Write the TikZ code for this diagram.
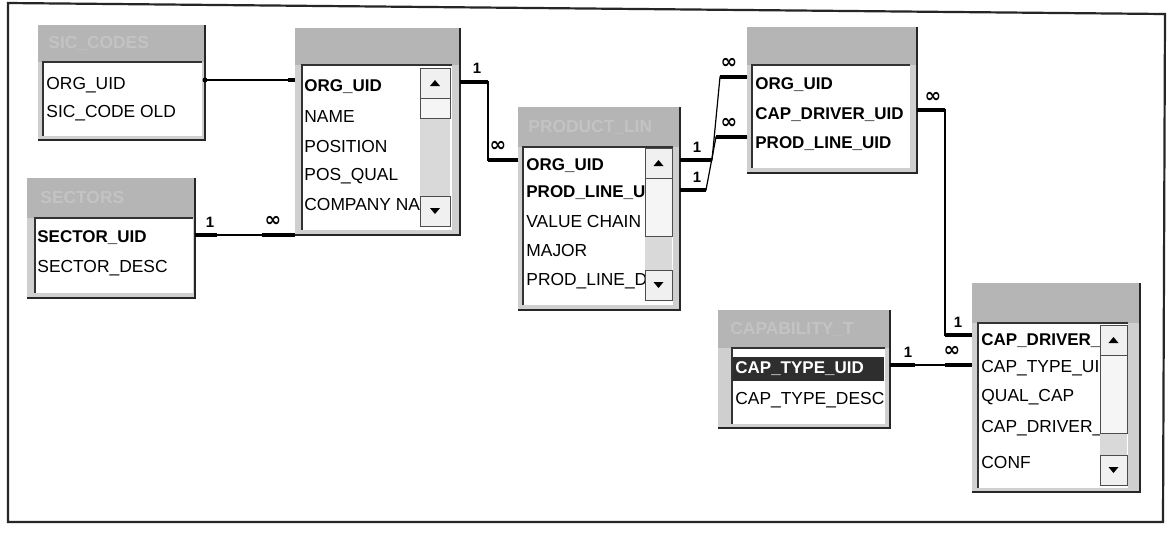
\documentclass[tikz,border=0pt]{standalone}
\usepackage{fontspec}
\setmainfont{Liberation Sans}
\newfontfamily\symf{DejaVu Sans}
\usetikzlibrary{calc}
\newcommand\dbtab[9]{%
  \node[tabframe, minimum width={(#4-#2)*0.5pt}, minimum height={(#5-#3)*0.5pt}] (#1) at (#2,#3) {};
  \fill[hdrgray] (#2,#3) rectangle (#4,#6);
  \fill[white] (#7,#6) rectangle (#8,#9);
  \draw[line width=0.7pt, black!80] (#7,#9) -- (#7,#6) -- (#8,#6);
  \draw[line width=0.9pt, black!85] (#4,#3) -- (#4,#5) -- (#2,#5);
}
\newcommand\sbar[6]{%
  \fill[gray!30] (#1,#3) rectangle (#2,#4);
  \filldraw[fill=gray!8, draw=black!70, line width=0.4pt] (#1,#5) rectangle (#2,#6);
  \filldraw[fill=gray!12, draw=black!70, line width=0.4pt] (#1,#3) rectangle (#2,{#3+30});
  \filldraw[fill=gray!12, draw=black!70, line width=0.4pt] (#1,{#4-30}) rectangle (#2,#4);
  \fill[black] ({(#1+#2)/2-5},{#3+18}) -- ({(#1+#2)/2+5},{#3+18}) -- ({(#1+#2)/2},{#3+12}) -- cycle;
  \fill[black] ({(#1+#2)/2-5},{#4-18}) -- ({(#1+#2)/2+5},{#4-18}) -- ({(#1+#2)/2},{#4-12}) -- cycle;
}
\begin{document}
\begin{tikzpicture}[x=0.5pt,y=-0.5pt,
  hdrgray/.style={fill=gray!58},
  tabframe/.style={draw=none, fill=gray!38, inner sep=0pt, outer sep=0pt, anchor=north west},
  fld/.style={anchor=west, inner sep=0pt, font=\fontsize{8.7}{10}\selectfont},
  keyfld/.style={fld, font=\fontsize{8.5}{10}\selectfont\bfseries},
  ttl/.style={anchor=west, inner sep=0pt, text=gray!47, font=\fontsize{8.7}{10}\selectfont\bfseries},
  card/.style={inner sep=0pt, font=\fontsize{7.5}{8}\selectfont\bfseries},
  inf/.style={inner sep=0pt, font=\symf\fontsize{10}{10}\selectfont\bfseries},
  relthick/.style={line width=2pt},
  relthin/.style={line width=0.6pt},
]
\useasboundingbox (0,0) rectangle (1169,532);
\fill[white] (0,0) rectangle (1169,532);
\draw[line width=1.1pt, black!85] (8,3) -- (1165,14) -- (1163,522) -- (8,522) -- cycle;

% ---- tables ----
\dbtab{sic}{38}{25}{205}{140}{62}{43}{202}{136}
\node[ttl] (sict) at (48,43) {SIC\_CODES};
\begin{scope}
  \clip (43,62) rectangle (202,136);
  \node[fld] (sic1) at (46,85) {ORG\_UID};
  \node[fld] (sic2) at (46,113) {SIC\_CODE OLD};
\end{scope}

\dbtab{sectors}{27}{178}{195}{298}{218}{35}{193}{293}
\node[ttl] (sect) at (40,198) {SECTORS};
\begin{scope}
  \clip (35,218) rectangle (193,293);
  \node[keyfld] (sec1) at (37,238) {SECTOR\_UID};
  \node[fld] (sec2) at (37,268) {SECTOR\_DESC};
\end{scope}

\dbtab{org}{295}{28}{460}{235}{65}{302}{452}{230}
\begin{scope}
  \clip (302,65) rectangle (420,230);
  \node[keyfld] (org1) at (304,87) {ORG\_UID};
  \node[fld] (org2) at (304,117) {NAME};
  \node[fld] (org3) at (304,147) {POSITION};
  \node[fld] (org4) at (304,176) {POS\_QUAL};
  \node[fld] (org5) at (304,205) {COMPANY NA};
\end{scope}
\sbar{420}{450}{68}{226}{98}{118}

\dbtab{product}{518}{107}{680}{310}{147}{523}{673}{305}
\node[ttl] (prodt) at (528,127) {PRODUCT\_LIN};
\begin{scope}
  \clip (523,147) rectangle (645,305);
  \node[keyfld] (prod1) at (526,166) {ORG\_UID};
  \node[keyfld] (prod2) at (526,193) {PROD\_LINE\_U};
  \node[fld] (prod3) at (526,222) {VALUE CHAIN};
  \node[fld] (prod4) at (526,251) {MAJOR};
  \node[fld] (prod5) at (526,281) {PROD\_LINE\_D};
\end{scope}
\sbar{645}{672}{148}{300}{178}{236}

\dbtab{link}{747}{27}{917}{173}{65}{752}{910}{168}
\begin{scope}
  \clip (752,65) rectangle (908,168);
  \node[keyfld] (lnk1) at (755,85) {ORG\_UID};
  \node[keyfld] (lnk2) at (755,115) {CAP\_DRIVER\_UID};
  \node[keyfld] (lnk3) at (755,144) {PROD\_LINE\_UID};
\end{scope}

\dbtab{captype}{718}{310}{890}{428}{348}{732}{885}{424}
\node[ttl] (ctt) at (730,329) {CAPABILITY\_T};
\begin{scope}
  \clip (732,348) rectangle (885,424);
  \fill[black!82] (733,357) rectangle (884,381);
  \node[keyfld, text=white] (ct1) at (735,369) {CAP\_TYPE\_UID};
  \node[fld] (ct2) at (735,400) {CAP\_TYPE\_DESC};
\end{scope}

\dbtab{capdrv}{972}{283}{1140}{492}{323}{978}{1128}{488}
\begin{scope}
  \clip (978,323) rectangle (1100,488);
  \node[keyfld] (cd1) at (981,341) {CAP\_DRIVER\_UID};
  \node[fld] (cd2) at (981,368) {CAP\_TYPE\_UID};
  \node[fld] (cd3) at (981,397) {QUAL\_CAP};
  \node[fld] (cd4) at (981,428) {CAP\_DRIVER\_UID};
  \node[fld] (cd5) at (981,462) {CONF};
\end{scope}
\sbar{1100}{1127}{325}{485}{355}{433}

% ---- relationship levels ----
\coordinate (yA) at (0,80);
\coordinate (yB) at (0,235);
\coordinate (yC) at (0,82);
\coordinate (yD) at (0,160);
\coordinate (yE) at (0,160);
\coordinate (yF) at (0,77);
\coordinate (yG) at (0,190);
\coordinate (yH) at (0,137);
\coordinate (yI) at (0,110);
\coordinate (yJ) at (0,335);
\coordinate (yK) at (0,365);
\coordinate (bx3) at (488,0);
\coordinate (k4a) at (712,160);
\coordinate (k4b) at (720,77);
\coordinate (k5a) at (706,190);
\coordinate (k5b) at (716,137);
\coordinate (bx6) at (945,0);

% SIC -> ORG
\draw[relthin] (sic.east |- yA) -- (org.west |- yA);
\fill (sic.east |- yA) circle (2.5);
\draw[line width=1.6pt] ($(org.west |- yA)+(-7,0)$) -- (org.west |- yA);

% SECTORS -> ORG
\draw[relthin] (sectors.east |- yB) -- (org.west |- yB);
\draw[relthick] (sectors.east |- yB) -- ++(22,0);
\draw[relthick] (org.west |- yB) -- ++(-33,0);
\node[card] (l2a) at (210,222) {1};
\node[inf] (l2b) at (273,221) {∞};

% ORG -> PRODUCT
\draw[relthin] (org.east |- yC) -- (bx3 |- yC) -- (bx3 |- yD) -- (product.west |- yD);
\draw[relthick] (org.east |- yC) -- (bx3 |- yC);
\draw[relthick] (product.west |- yD) -- (bx3 |- yD);
\node[card] (l3a) at (477,68) {1};
\node[inf] (l3b) at (498,146) {∞};

% PRODUCT -> LINK (1)
\draw[relthin] (product.east |- yE) -- (k4a) -- (k4b) -- (link.west |- yF);
\draw[relthick] (product.east |- yE) -- (k4a);
\draw[relthick] (link.west |- yF) -- (k4b);
\node[card] (l4a) at (697,147) {1};
\node[inf] (l4b) at (729,63) {∞};

% PRODUCT -> LINK (2)
\draw[relthin] (product.east |- yG) -- (k5a) -- (k5b) -- (link.west |- yH);
\draw[relthick] (product.east |- yG) -- (k5a);
\draw[relthick] (link.west |- yH) -- (k5b);
\node[card] (l5a) at (697,177) {1};
\node[inf] (l5b) at (729,123) {∞};

% LINK -> CAPDRV
\draw[relthin] (link.east |- yI) -- (bx6 |- yI) -- (bx6 |- yJ) -- (capdrv.west |- yJ);
\draw[relthick] (link.east |- yI) -- (bx6 |- yI);
\draw[relthick] (capdrv.west |- yJ) -- (bx6 |- yJ);
\node[inf] (l6a) at (933,97) {∞};
\node[card] (l6b) at (958,322) {1};

% CAPTYPE -> CAPDRV
\draw[relthin] (captype.east |- yK) -- (capdrv.west |- yK);
\draw[relthick] (captype.east |- yK) -- ++(25,0);
\draw[relthick] (capdrv.west |- yK) -- ++(-27,0);
\node[card] (l7a) at (908,352) {1};
\node[inf] (l7b) at (952,351) {∞};
\end{tikzpicture}
\end{document}
